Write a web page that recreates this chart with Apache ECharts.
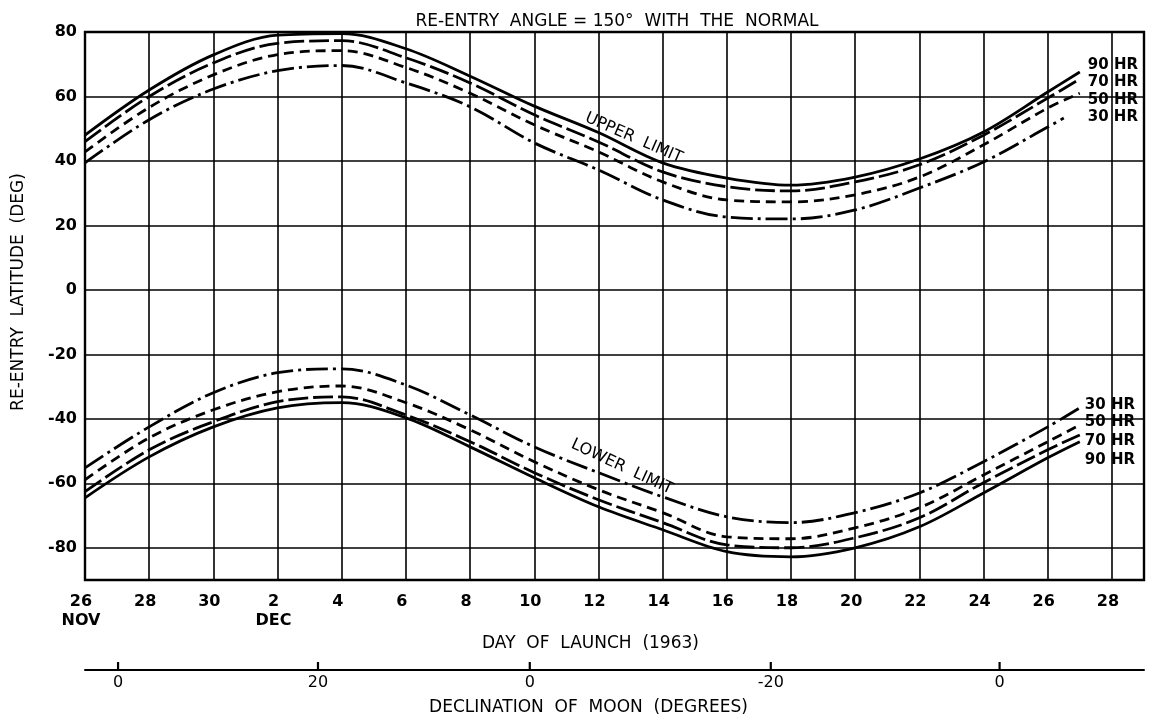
<!DOCTYPE html>
<html><head><meta charset="utf-8">
<script src="https://cdn.jsdelivr.net/npm/echarts@6/dist/echarts.min.js"></script>
<style>html,body{margin:0;padding:0;background:#fff}#c{width:1152px;height:721px}</style>
</head><body><div id="c"></div>
<script>
// day index: 0 = 26 Nov 1963, 6 = 2 Dec, 32 = 28 Dec
const days   = [0,2,4,6,8,10,12,14,16,18,20,22,24,26,28,30,31];
const days30 = [0,2,4,6,8,10,12,14,16,18,20,22,24,26,28,30,30.5];

// Upper limit (re-entry latitude, deg)
const upper90 = [48.0,62.0,72.9,79.0,79.5,74.8,66.3,57.0,48.8,39.4,34.7,32.5,35.0,40.6,49.0,61.4,67.6];
const upper70 = [46.0,60.0,70.4,76.5,77.3,72.0,64.2,54.3,45.9,36.6,32.0,30.7,33.5,38.8,48.0,59.5,65.4];
const upper50 = [42.8,56.6,66.7,73.0,74.2,69.0,61.0,51.2,42.8,33.5,27.9,27.3,29.5,35.0,45.0,56.4,61.0];
const upper30 = [39.4,52.8,62.3,68.0,69.6,64.2,56.8,45.6,37.2,27.9,22.6,22.0,24.8,31.6,39.7,50.5,53.3];

// Lower limit
const lower30 = [-55.2,-42.5,-31.9,-25.7,-24.5,-29.5,-38.8,-48.7,-56.7,-64.2,-70.4,-72.2,-69.1,-63.0,-53.3,-42.5,-36.6];
const lower50 = [-58.9,-45.9,-37.2,-31.6,-29.8,-35.0,-43.4,-53.3,-62.0,-69.1,-76.6,-77.2,-73.8,-67.6,-57.4,-47.1,-41.9];
const lower70 = [-62.6,-49.6,-40.9,-34.7,-33.2,-38.8,-47.1,-56.7,-65.1,-72.2,-79.1,-80.0,-76.9,-70.7,-59.8,-49.6,-45.0];
const lower90 = [-64.5,-51.8,-42.5,-36.6,-35.0,-39.7,-48.7,-58.3,-67.3,-74.4,-81.2,-82.8,-80.0,-73.5,-63.0,-52.1,-47.1];

const xTickLabels = ['26\nNOV','28','30','2\nDEC','4','6','8','10','12','14','16','18','20','22','24','26','28'];
const yTickValues = [80,60,40,20,0,-20,-40,-60,-80];
const yTickLabels = ['80','60','40','20','0','-20','-40','-60','-80'];
const declTickDays = [1.03,7.26,13.86,21.37,28.5];
const declTickLabels = ['0','20','0','-20','0'];

const FONT = 'DejaVu Sans';
const zip = (xs, ys) => xs.map((x, i) => [x, ys[i]]);

function mk(name, label, xs, ys, dash, off, extra) {
  return Object.assign({
    name: name, type: 'line', xAxisIndex: 0, yAxisIndex: 0,
    data: zip(xs, ys), smooth: 0.35, showSymbol: false, symbol: 'none',
    lineStyle: { color: '#000', width: 2.8, type: dash, cap: 'butt' },
    endLabel: { show: true, formatter: label, color: '#000', fontFamily: FONT,
      fontSize: 15, fontWeight: 'bold', offset: off, distance: 5 },
    z: 5, silent: true
  }, extra || {});
}

const gridMarks = {
  markLine: {
    silent: true, symbol: ['none','none'], label: { show: false },
    lineStyle: { color: '#000', width: 1.6, type: 'solid' },
    data: yTickValues.map(v => ({ yAxis: v }))
  },
  markPoint: {
    symbol: 'circle', symbolSize: 0, itemStyle: { color: 'rgba(0,0,0,0)' },
    label: { show: true, position: 'inside', formatter: '{b}', color: '#000',
      fontFamily: FONT, fontSize: 16, rotate: -23.6 },
    data: [{ name: 'UPPER  LIMIT', coord: [17.1, 47.1] }]
  }
};
const lowerMark = {
  markPoint: {
    symbol: 'circle', symbolSize: 0, itemStyle: { color: 'rgba(0,0,0,0)' },
    label: { show: true, position: 'inside', formatter: '{b}', color: '#000',
      fontFamily: FONT, fontSize: 16, rotate: -25 },
    data: [{ name: 'LOWER  LIMIT', coord: [16.73, -54.9] }]
  }
};

const LONG = [20, 5], SHORT = [10, 6], DASHDOT = [22, 5, 3, 5];

const option = {
  animation: false,
  backgroundColor: '#fff',
  title: {
    text: 'RE-ENTRY  ANGLE = 150°  WITH  THE  NORMAL',
    left: 617, top: 13, textAlign: 'center', padding: 0,
    textStyle: { fontFamily: FONT, fontSize: 17, fontWeight: 'normal', color: '#000' }
  },
  grid: { left: 85, right: 8, top: 32, bottom: 141, show: true, outerBoundsMode: 'none',
    containLabel: false,
    borderColor: '#000', borderWidth: 2.4, backgroundColor: 'transparent' },
  xAxis: [{
    type: 'value', min: 0, max: 33, interval: 2,
    axisLine: { show: false }, axisTick: { show: false },
    splitLine: { show: true, lineStyle: { color: '#000', width: 1.6 } },
    axisLabel: { color: '#000', fontFamily: FONT, fontSize: 16, fontWeight: 'bold',
      margin: 12, lineHeight: 19, padding: [0, 8, 0, 0],
      formatter: v => (v % 2 === 0 && v <= 32) ? xTickLabels[v / 2] : '' },
    name: 'DAY  OF  LAUNCH  (1963)', nameLocation: 'middle', nameGap: 54,
    nameTextStyle: { color: '#000', fontFamily: FONT, fontSize: 17, padding: [0, 48, 0, 0] }
  }, {
    type: 'value', min: 0, max: 33, position: 'bottom', offset: 90,
    axisLine: { show: true, lineStyle: { color: '#000', width: 2 } },
    axisTick: { show: false },
    splitLine: { show: false },
    axisLabel: { customValues: declTickDays, color: '#000', fontFamily: FONT, fontSize: 16,
      margin: 5,
      formatter: v => {
        let best = 0, bd = 1e9;
        declTickDays.forEach((d, i) => { if (Math.abs(d - v) < bd) { bd = Math.abs(d - v); best = i; } });
        return bd < 0.01 ? declTickLabels[best] : '';
      } },
    name: 'DECLINATION  OF  MOON  (DEGREES)', nameLocation: 'middle', nameGap: 29,
    nameTextStyle: { color: '#000', fontFamily: FONT, fontSize: 17, padding: [0, 52, 0, 0] }
  }],
  yAxis: {
    type: 'value', min: -90, max: 80, interval: 10,
    axisLine: { show: false }, axisTick: { show: false }, splitLine: { show: false },
    axisLabel: { color: '#000', fontFamily: FONT, fontSize: 16, fontWeight: 'bold', margin: 8,
      formatter: v => { const i = yTickValues.indexOf(v); return i >= 0 ? yTickLabels[i] : ''; } },
    name: 'RE-ENTRY  LATITUDE  (DEG)', nameLocation: 'middle', nameGap: 58,
    nameTextStyle: { color: '#000', fontFamily: FONT, fontSize: 17, padding: [0, 0, 0, 28] }
  },
  series: [
    mk('Upper 90 HR', '90 HR', days, upper90, 'solid', [3, -7], gridMarks),
    mk('Upper 70 HR', '70 HR', days, upper70, LONG, [3, 3]),
    mk('Upper 50 HR', '50 HR', days, upper50, SHORT, [3, 7]),
    mk('Upper 30 HR', '30 HR', days30, upper30, DASHDOT, [19, -1]),
    mk('Lower 30 HR', '30 HR', days, lower30, DASHDOT, [0, -3]),
    mk('Lower 50 HR', '50 HR', days, lower50, SHORT, [0, -3]),
    mk('Lower 70 HR', '70 HR', days, lower70, LONG, [0, 6]),
    mk('Lower 90 HR', '90 HR', days, lower90, 'solid', [0, 18], lowerMark)
  ]
};

const chart = echarts.init(document.getElementById('c'), null, { renderer: 'canvas' });
chart.setOption(option);

// Upward tick marks on the declination scale, placed through the axis scale
const declAxisY = 721 - 141 + 90;
const tickGraphics = declTickDays.map(d => {
  const px = chart.convertToPixel({ xAxisIndex: 1 }, d);
  return { type: 'line', silent: true, z: 10,
    shape: { x1: px, y1: declAxisY, x2: px, y2: declAxisY - 8 },
    style: { stroke: '#000', lineWidth: 2.2 } };
});
chart.setOption({ graphic: tickGraphics });
</script>
</body></html>
